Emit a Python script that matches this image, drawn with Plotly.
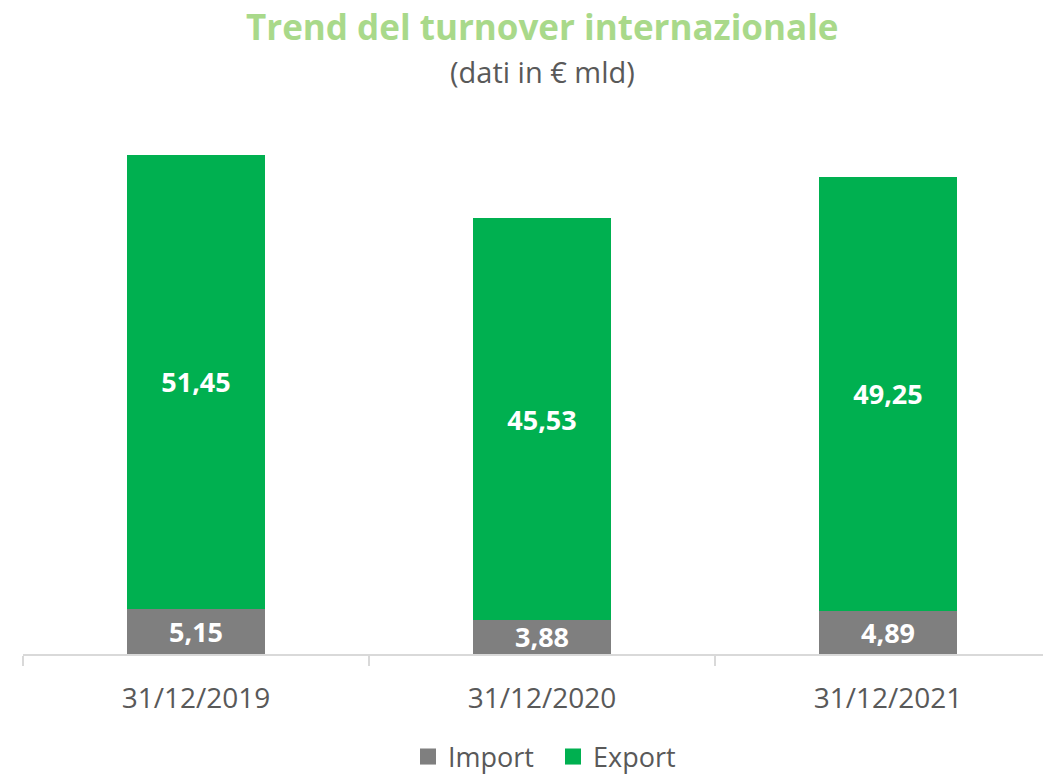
import plotly.graph_objects as go

categories = ["31/12/2019", "31/12/2020", "31/12/2021"]
import_vals = [5.15, 3.88, 4.89]
export_vals = [51.45, 45.53, 49.25]
import_labels = ["5,15", "3,88", "4,89"]
export_labels = ["51,45", "45,53", "49,25"]
series_names = ["Import", "Export"]

GREEN = "#00B050"
GRAY = "#7F7F7F"
FONT = "Open Sans"
TXT = "#595959"

L, T, B = 23, 125, 120
PLOT_W = 1043 - L
PLOT_H = 774 - T - B

fig = go.Figure()
fig.add_trace(go.Bar(
    x=categories, y=import_vals, name=series_names[0], marker=dict(color=GRAY, line=dict(width=0)),
    text=import_labels, textposition="inside", insidetextanchor="middle", constraintext="none",
    textfont=dict(family=FONT, size=27, color="white", weight="bold"),
    texttemplate="%{text}", showlegend=False, cliponaxis=False,
))
fig.add_trace(go.Bar(
    x=categories, y=export_vals, name=series_names[1], marker=dict(color=GREEN, line=dict(width=0)),
    text=export_labels, textposition="inside", insidetextanchor="middle", constraintext="none",
    textfont=dict(family=FONT, size=27, color="white", weight="bold"),
    texttemplate="%{text}", showlegend=False,
))
# legend entries (square swatches), each in its own legend box for exact spacing
for nm, col, lg in zip(series_names, [GRAY, GREEN], ["legend", "legend2"]):
    fig.add_trace(go.Scatter(
        x=[None], y=[None], mode="markers", name=nm, legend=lg,
        marker=dict(symbol="square", size=16, color=col),
    ))

fig.add_annotation(
    text="<b>Trend del turnover internazionale</b>", xref="paper", yref="paper",
    x=(542 - L) / PLOT_W, y=(654 - 26) / PLOT_H, xanchor="center", yanchor="middle",
    showarrow=False, font=dict(family=FONT, size=35, color="#A9D98A"),
)
fig.add_annotation(
    text="(dati in € mld)", xref="paper", yref="paper",
    x=(542 - L) / PLOT_W, y=(654 - 72) / PLOT_H, xanchor="center", yanchor="middle",
    showarrow=False, font=dict(family=FONT, size=29, color=TXT),
)

leg_common = dict(
    orientation="h", xanchor="left", yanchor="middle",
    y=(654 - 757) / PLOT_H,
    font=dict(family=FONT, size=27, color=TXT), itemwidth=30,
    bgcolor="rgba(0,0,0,0)",
)

fig.update_layout(
    width=1043, height=774,
    barmode="stack", bargap=0.6,
    plot_bgcolor="white", paper_bgcolor="white",
    margin=dict(l=L, r=0, t=T, b=B, autoexpand=False),
    font=dict(family=FONT, color=TXT),
    showlegend=True,
    legend=dict(x=(408 - L) / PLOT_W, **leg_common),
    legend2=dict(x=(553 - L) / PLOT_W, **leg_common),
    xaxis=dict(
        type="category", range=[-0.5, 2.5 - 18 / 346],
        showline=True, linecolor="#D9D9D9", linewidth=2,
        ticks="outside", tickson="boundaries", ticklen=10, tickcolor="#D9D9D9", tickwidth=2,
        tickfont=dict(family=FONT, size=28, color=TXT), ticklabelstandoff=18,
        showgrid=False,
    ),
    yaxis=dict(range=[0, 60], visible=False, showgrid=False),
)

fig.write_html("out.html", config={"displayModeBar": False},
               post_script="document.body.style.margin='0';")
